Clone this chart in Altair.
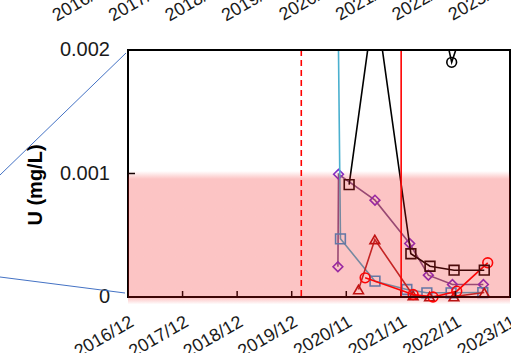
import altair as alt
import pandas as pd

W, H = 382, 247
FONT = "Liberation Sans"

# x-axis ticks: 365-day steps from the start of the record
tick_dates = ["2016-12-01", "2017-12-01", "2018-12-01", "2019-12-01",
              "2020-11-30", "2021-11-30", "2022-11-30", "2023-11-30"]
tick_labels = ["2016/12", "2017/12", "2018/12", "2019/12",
               "2020/11", "2021/11", "2022/11", "2023/11"]
y_ticks = [0.0, 0.001, 0.002]
y_tick_labels = ["0", "0.001", "0.002"]
y_title = "U (mg/L)"

# event markers (dashed / solid vertical lines)
event_dates = ["2020-02-03", "2021-12-02"]
event_kind = ["dashed", "solid"]

# U concentration (mg/L) per monitoring well
sq_black_dates = ["2020-12-19", "2021-06-10", "2022-02-05", "2022-06-13", "2022-11-21", "2023-06-11"]
sq_black_vals = [0.00091, 0.00243, 0.00035, 0.000249, 0.000217, 0.000217]

diamond_dates = ["2020-10-05", "2020-10-09", "2021-06-10", "2022-01-28", "2022-06-02", "2022-11-10", "2023-06-05"]
diamond_vals = [0.000245, 0.000994, 0.000784, 0.000433, 0.000177, 0.000101, 0.000101]

sq_blue_dates = ["2020-09-25", "2020-10-22", "2021-06-10", "2022-01-09", "2022-05-23", "2022-11-01", "2023-06-01"]
sq_blue_vals = [0.0036, 0.000471, 0.000128, 0.000061, 0.000034, 0.000034, 0.000036]

tri_dates = ["2021-02-20", "2021-06-09", "2022-02-20", "2022-06-10", "2022-11-20", "2023-06-11"]
tri_vals = [0.000061, 0.000466, 0.000012, 0.000004, 0.000004, 0.000036]

circ_red_dates = ["2021-04-05", "2022-02-20", "2022-07-03", "2022-12-09", "2023-07-04"]
circ_red_vals = [0.000155, 0.00002, 0.0, 0.000047, 0.000277]

circ_black_dates = ["2022-06-13", "2022-11-05", "2023-06-11"]
circ_black_vals = [0.0027, 0.0019, 0.0027]

# guideline: shaded range up to the reference level
band_lo, band_hi = -0.00006, 0.00102

# overview panel above spans a slightly wider pixel range than this one
OV_LEFT, OV_SPAN = -22, 395


def dt(s):
    y, m, d = (int(p) for p in s.split("-"))
    return alt.DateTime(year=y, month=m, date=d, utc=True)


x_domain = [dt(tick_dates[0]), dt(tick_dates[-1])]
x_scale = alt.Scale(type="utc", domain=x_domain, nice=False)
y_scale = alt.Scale(domain=[0, 0.002], nice=False, zero=False)


def xenc(field="date:T"):
    return alt.X(field, scale=x_scale, axis=None)


def yenc(field="u:Q"):
    return alt.Y(field, scale=y_scale, axis=None)


series = [
    # name, dates, values, shape, line colour, marker colour
    ("diamond", diamond_dates, diamond_vals, "diamond", "#7A5A92", "#7B2FD0"),
    ("sq_blue", sq_blue_dates, sq_blue_vals, "square", "#4BB0CF", "#3498D6"),
    ("tri", tri_dates, tri_vals, "triangle-up", "#B52A2A", "#B01212"),
    ("circ_red", circ_red_dates, circ_red_vals, "circle", "#FF0000", "#FF0000"),
    ("sq_black", sq_black_dates, sq_black_vals, "square", "#000000", "#140808"),
    ("circ_black", circ_black_dates, circ_black_vals, "circle", "#000000", "#000000"),
]

layers = []
for name, dates, vals, shape, lc, mc in series:
    df = pd.DataFrame({"date": dates, "u": vals})
    base = alt.Chart(df).encode(x=xenc(), y=yenc())
    layers.append(base.mark_line(color=lc, strokeWidth=1.6, clip=True))
    layers.append(base.transform_filter("datum.u <= 0.002").mark_point(
        shape=shape, filled=False, color=mc, size=95, strokeWidth=1.6, opacity=1))

# tick marks pointing into the plot, with their labels
xt = pd.DataFrame({"date": tick_dates, "lab": tick_labels})
layers.append(alt.Chart(xt).mark_rule(color="#000000", strokeWidth=1.5).encode(
    x=xenc(), y=alt.value(H), y2=alt.value(H - 6)))
layers.append(alt.Chart(xt).mark_text(
    angle=330, align="right", baseline="top", fontSize=18, font=FONT,
    color="#1a1a1a").encode(x=xenc(), y=alt.value(H + 16), text="lab:N"))

yt = pd.DataFrame({"u": y_ticks, "lab": y_tick_labels})
layers.append(alt.Chart(yt).mark_rule(color="#000000", strokeWidth=1.5).encode(
    y=yenc(), x=alt.value(0), x2=alt.value(7)))
layers.append(alt.Chart(yt).mark_text(
    align="right", baseline="middle", fontSize=20, font=FONT,
    color="#1a1a1a").encode(y=yenc(), x=alt.value(-18), text="lab:N"))

# axis title
layers.append(alt.Chart(pd.DataFrame({"t": [y_title]})).mark_text(
    angle=270, align="center", baseline="middle", fontSize=20, font=FONT,
    fontWeight="bold", color="#000000").encode(
    x=alt.value(-92), y=alt.value(135), text="t:N"))

# zoom connector lines towards the overview panel
conn = pd.DataFrame({"k": [0]})
layers.append(alt.Chart(conn).mark_rule(color="#4472C4", strokeWidth=1).encode(
    x=alt.value(-128), y=alt.value(125), x2=alt.value(-2), y2=alt.value(3)))
layers.append(alt.Chart(conn).mark_rule(color="#4472C4", strokeWidth=1).encode(
    x=alt.value(-128), y=alt.value(227), x2=alt.value(-3), y2=alt.value(243)))

ev = pd.DataFrame({"date": event_dates, "kind": event_kind})
layers.append(alt.Chart(ev).transform_filter("datum.kind == 'dashed'").mark_rule(
    color="#FF0000", strokeWidth=1.6, strokeDash=[6, 4]).encode(
    x=xenc(), y=alt.value(0), y2=alt.value(H)))
layers.append(alt.Chart(ev).transform_filter("datum.kind == 'solid'").mark_rule(
    color="#FF0000", strokeWidth=1.6).encode(
    x=xenc(), y=alt.value(0), y2=alt.value(H)))

# plot frame
layers.append(alt.Chart(conn).mark_rect(fill="#ffffff", fillOpacity=0,
                                        stroke="#000000", strokeWidth=2).encode(
    x=alt.value(0), x2=alt.value(W), y=alt.value(0), y2=alt.value(H)))

# translucent shaded band with soft edges
band = pd.DataFrame({"lo": [band_lo], "hi": [band_hi]})
grad = alt.LinearGradient(
    gradient="linear", x1=0, x2=0, y1=0, y2=1,
    stops=[alt.GradientStop(color="rgba(243,20,20,0)", offset=0),
           alt.GradientStop(color="rgba(243,20,20,0.25)", offset=0.06),
           alt.GradientStop(color="rgba(243,20,20,0.25)", offset=0.95),
           alt.GradientStop(color="rgba(243,20,20,0)", offset=1)])
layers.append(alt.Chart(band).mark_rect(fill=grad).encode(
    y=yenc("hi:Q"), y2="lo:Q", x=alt.value(0), x2=alt.value(W)))

# tick labels of the overview panel above: its time axis mapped into this scale
t0 = "utc(2016, 11, 1)"
t1 = "utc(2023, 10, 30)"
pos_expr = (f"{t0} + (toDate(datum.date) - {t0}) * {OV_SPAN} / {W}"
            f" + {OV_LEFT} / {W} * ({t1} - {t0})")
layers.append(alt.Chart(xt)
              .transform_calculate(pos=pos_expr)
              .mark_text(angle=330, align="right", baseline="top", fontSize=18,
                         font=FONT, color="#1a1a1a")
              .encode(x=xenc("pos:T"), y=alt.value(-73), text="lab:N"))

chart = alt.layer(*layers).properties(
    width=W, height=H,
    padding={"left": 128, "top": 50, "right": 1, "bottom": 56},
    autosize=alt.AutoSizeParams(type="none"),
    background="#ffffff",
).configure_view(stroke="transparent")

chart.save("out.html", embed_options={"renderer": "svg", "actions": False})
